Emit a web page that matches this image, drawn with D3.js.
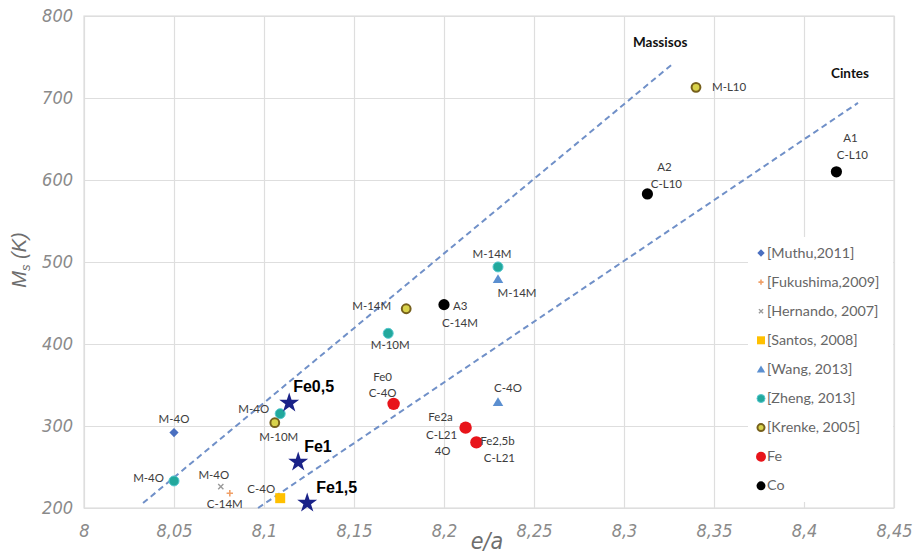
<!DOCTYPE html>
<html>
<head>
<meta charset="utf-8">
<script src="https://cdn.jsdelivr.net/npm/d3@7"></script>
<style>
  body { margin: 0; background: #fff; }
  svg { display: block; }
</style>
</head>
<body>
<svg id="chart" width="917" height="556"></svg>
<script>
// ---- data -----------------------------------------------------------
const xTicks = [8, 8.05, 8.1, 8.15, 8.2, 8.25, 8.3, 8.35, 8.4, 8.45];
const yTicks = [200, 300, 400, 500, 600, 700, 800];

// e/a and Ms (K) for each source
const muthu     = [{ ea: 8.05,  ms: 292, label: ["M-4O"] }];
const fukushima = [{ ea: 8.081, ms: 218, label: ["C-14M"] }];
const hernando  = [{ ea: 8.076, ms: 226, label: ["M-4O"] }];
const santos    = [{ ea: 8.109, ms: 212, label: ["C-4O"] }];
const wang      = [{ ea: 8.23,  ms: 479, label: ["M-14M"] },
                   { ea: 8.23,  ms: 329, label: ["C-4O"] }];
const zheng     = [{ ea: 8.05,  ms: 233, label: ["M-4O"] },
                   { ea: 8.109, ms: 315, label: ["M-4O"] },
                   { ea: 8.169, ms: 413, label: ["M-10M"] },
                   { ea: 8.23,  ms: 494, label: ["M-14M"] }];
const krenke    = [{ ea: 8.106, ms: 304, label: ["M-10M"] },
                   { ea: 8.179, ms: 443, label: ["M-14M"] },
                   { ea: 8.34,  ms: 713, label: ["M-L10"] }];
const feAlloys  = [{ ea: 8.172, ms: 327, label: ["Fe0", "C-4O"] },
                   { ea: 8.212, ms: 298, label: ["Fe2a", "C-L21", "4O"] },
                   { ea: 8.218, ms: 280, label: ["Fe2,5b", "C-L21"] }];
const coAlloys  = [{ ea: 8.2,   ms: 448, label: ["A3", "C-14M"] },
                   { ea: 8.313, ms: 583, label: ["A2", "C-L10"] },
                   { ea: 8.418, ms: 610, label: ["A1", "C-L10"] }];
const thisWork  = [{ ea: 8.114, ms: 328, label: ["Fe0,5"] },
                   { ea: 8.119, ms: 256, label: ["Fe1"] },
                   { ea: 8.124, ms: 206, label: ["Fe1,5"] }];

// dashed guide lines (bulk vs ribbons)
const massisosLine = [{ ea: 8.0328, ms: 206 }, { ea: 8.3278, ms: 743 }];
const cintesLine   = [{ ea: 8.0967, ms: 200 }, { ea: 8.43,   ms: 694 }];

const legendNames = ["[Muthu,2011]", "[Fukushima,2009]", "[Hernando, 2007]", "[Santos, 2008]",
                     "[Wang, 2013]", "[Zheng, 2013]", "[Krenke, 2005]", "Fe", "Co"];

// ---- layout ---------------------------------------------------------
const svg = d3.select("#chart");
const W = 917, H = 556;
const plot = { left: 84, right: 894, top: 16, bottom: 508 };

const x = d3.scaleLinear().domain([8, 8.45]).range([plot.left, plot.right]);
const y = d3.scaleLinear().domain([200, 800]).range([plot.bottom, plot.top]);

const loc = d3.formatLocale({ decimal: ",", thousands: ".", grouping: [3], currency: ["", ""] });
const fmt = loc.format("~g");

const tickFont = "'Liberation Sans Narrow', 'DejaVu Sans Condensed', 'Liberation Sans', sans-serif";
const labelFont = "Lato, 'Open Sans', sans-serif";

svg.append("rect").attr("width", W).attr("height", H).attr("fill", "#fff");

// gridlines + tick labels
const gx = svg.append("g")
  .attr("transform", `translate(0,${plot.bottom})`)
  .call(d3.axisBottom(x).tickValues(xTicks).tickFormat(fmt)
        .tickSizeInner(-(plot.bottom - plot.top)).tickSizeOuter(0).tickPadding(16));
const gy = svg.append("g")
  .attr("transform", `translate(${plot.left},0)`)
  .call(d3.axisLeft(y).tickValues(yTicks).tickFormat(fmt)
        .tickSizeInner(-(plot.right - plot.left)).tickSizeOuter(0).tickPadding(11));

[gx, gy].forEach(g => {
  g.select(".domain").remove();
  g.selectAll(".tick line").attr("stroke", "#dedede").attr("stroke-width", 1.2);
  g.selectAll(".tick text")
    .attr("fill", "#8a8a8a")
    .attr("font-family", tickFont)
    .attr("font-style", "italic")
    .attr("font-size", 18);
});

svg.append("rect")
  .attr("x", plot.left).attr("y", plot.top)
  .attr("width", plot.right - plot.left).attr("height", plot.bottom - plot.top)
  .attr("fill", "none").attr("stroke", "#dedede").attr("stroke-width", 1.2);

// axis titles
const yTitle = svg.append("text")
  .attr("transform", "translate(26,260) rotate(-90)")
  .attr("text-anchor", "middle")
  .attr("font-family", "'Liberation Sans', Arial, sans-serif")
  .attr("font-style", "italic")
  .attr("font-size", 20)
  .attr("fill", "#6e6e6e");
yTitle.append("tspan").text("M");
yTitle.append("tspan").attr("font-size", 13).attr("dy", 4).text("s");
yTitle.append("tspan").attr("dy", -4).text(" (K)");

svg.append("text")
  .attr("x", 487).attr("y", 549)
  .attr("text-anchor", "middle")
  .attr("font-family", tickFont)
  .attr("font-style", "italic")
  .attr("font-size", 23)
  .attr("fill", "#6e6e6e")
  .text("e/a");

// legend panel (covers gridlines)
svg.append("rect")
  .attr("x", 748).attr("y", 237).attr("width", 145).attr("height", 265)
  .attr("fill", "#fff");

// guide lines
const line = d3.line().x(d => x(d.ea)).y(d => y(d.ms));
[massisosLine, cintesLine].forEach(pts => {
  svg.append("path")
    .attr("d", line(pts))
    .attr("fill", "none")
    .attr("stroke", "#7090c8")
    .attr("stroke-width", 2)
    .attr("stroke-dasharray", "6,4");
});

svg.append("text").attr("x", 633).attr("y", 47)
  .attr("font-family", labelFont).attr("font-weight", "bold").attr("font-size", 13.5)
  .attr("fill", "#111").text("Massisos");
svg.append("text").attr("x", 831).attr("y", 78)
  .attr("font-family", labelFont).attr("font-weight", "bold").attr("font-size", 13.5)
  .attr("fill", "#111").text("Cintes");

// ---- marker shapes --------------------------------------------------
const shapes = {
  diamond: (r) => `M0,${-r}L${r},0L0,${r}L${-r},0Z`,
  square: (r) => `M${-r},${-r}H${r}V${r}H${-r}Z`,
  triangle: (r) => `M0,${-r}L${r * 1.05},${r * 0.75}L${-r * 1.05},${r * 0.75}Z`,
  plus: (r) => `M${-r},0H${r}M0,${-r}V${r}`,
  times: (r) => `M${-r},${-r}L${r},${r}M${r},${-r}L${-r},${r}`,
  circle: (r) => d3.symbol().type(d3.symbolCircle).size(Math.PI * r * r)(),
  star: (r) => d3.symbol().type(d3.symbolStar).size(r * r / 0.8908130915292852)()
};

const styles = {
  muthu:     { shape: "diamond",  r: 4.6, fill: "#4a6fc0" },
  fukushima: { shape: "plus",     r: 3.2, fill: "none", stroke: "#f0a068", sw: 1.6 },
  hernando:  { shape: "times",    r: 2.6, fill: "none", stroke: "#9a9a9a", sw: 1.4 },
  santos:    { shape: "square",   r: 5,   fill: "#ffc000" },
  wang:      { shape: "triangle", r: 5,   fill: "#5b8fd0" },
  zheng:     { shape: "circle",   r: 5,   fill: "#22a89c", stroke: "#56c8d0", sw: 1 },
  krenke:    { shape: "circle",   r: 4.4, fill: "#d8d24a", stroke: "#76601c", sw: 2 },
  fe:        { shape: "circle",   r: 6.2, fill: "#e8141a" },
  co:        { shape: "circle",   r: 5.6, fill: "#000" },
  star:      { shape: "star",     r: 10.5, fill: "#1a2288" }
};

function marker(g, key, scale = 1) {
  const s = styles[key];
  return g.append("path")
    .attr("d", shapes[s.shape](s.r * scale))
    .attr("fill", s.fill)
    .attr("stroke", s.stroke || "none")
    .attr("stroke-width", s.sw || 0);
}

// label placement: [anchor, dx, dy] per line
const labelPos = {
  muthu:     [[["middle", 0, -10]]],
  fukushima: [[["middle", -5, 15]]],
  hernando:  [[["middle", -7, -8]]],
  santos:    [[["middle", -19, -5]]],
  wang:      [[["middle", 19, 18]], [["middle", 10, -10]]],
  zheng:     [[["end", -10, 1]], [["end", -11, -1]], [["middle", 2, 16]], [["middle", -6, -9]]],
  krenke:    [[["middle", 4, 18]], [["end", -15, 1]], [["start", 16, 4]]],
  fe:        [[["middle", -11, -23], ["middle", -11, -7]],
              [["middle", -25, -7], ["middle", -24, 11], ["middle", -23, 27]],
              [["middle", 21, 3], ["middle", 23, 20]]],
  co:        [[["start", 9, 5], ["start", -2, 22]],
              [["middle", 17, -23], ["middle", 19, -6]],
              [["middle", 14, -30], ["middle", 16, -13]]],
  star:      [[["start", 4, -11]], [["start", 6, -10]], [["start", 9, -10]]]
};

const series = [
  ["muthu", muthu], ["fukushima", fukushima], ["hernando", hernando], ["santos", santos],
  ["wang", wang], ["zheng", zheng], ["krenke", krenke], ["fe", feAlloys], ["co", coAlloys],
  ["star", thisWork]
];

const pts = svg.append("g");
const lbls = svg.append("g");
series.forEach(([key, data]) => {
  data.forEach((d, i) => {
    const px = x(d.ea), py = y(d.ms);
    marker(pts.append("g").attr("transform", `translate(${px},${py})`), key);
    d.label.forEach((t, j) => {
      const [anchor, dx, dy] = labelPos[key][i][j];
      const isStar = key === "star";
      lbls.append("text")
        .attr("x", px + dx).attr("y", py + dy)
        .attr("text-anchor", anchor)
        .attr("font-family", isStar ? "'Liberation Sans', Arial, sans-serif" : labelFont)
        .attr("font-weight", isStar ? "bold" : "normal")
        .attr("font-size", isStar ? 16 : 11.5)
        .attr("fill", isStar ? "#000" : "#3c3c3c")
        .text(t);
    });
  });
});

// legend
const legendKeys = ["muthu", "fukushima", "hernando", "santos", "wang", "zheng", "krenke", "fe", "co"];
const lg = svg.append("g");
legendKeys.forEach((k, i) => {
  const ly = 253 + i * 29.1;
  marker(lg.append("g").attr("transform", `translate(761,${ly})`), k, 0.8);
  lg.append("text")
    .attr("x", 767).attr("y", ly + 4.5)
    .attr("font-family", labelFont)
    .attr("font-size", 14.3)
    .attr("fill", "#666")
    .text(legendNames[i]);
});
</script>
</body>
</html>
